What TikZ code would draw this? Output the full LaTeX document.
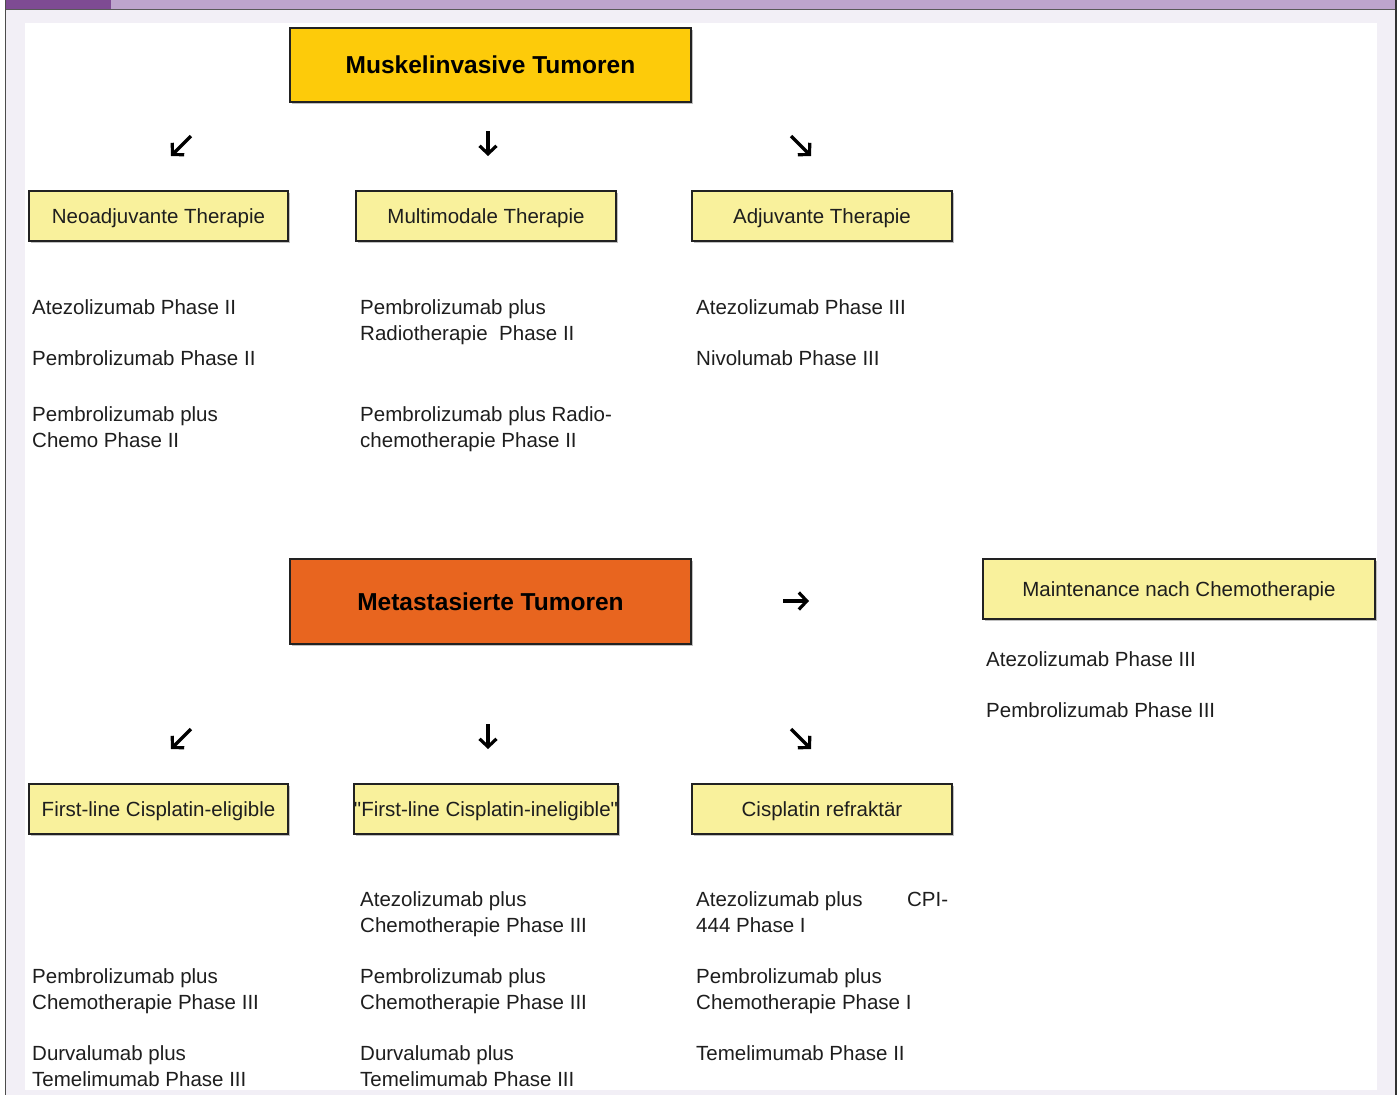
\documentclass[tikz,border=0pt]{standalone}
\usepackage{fontspec}
\setmainfont{Liberation Sans}[Ligatures=TeXOff]
\usetikzlibrary{arrows.meta,shadows}
\definecolor{lav}{HTML}{F2EFF6}
\definecolor{pdark}{HTML}{7E4B93}
\definecolor{plight}{HTML}{BDA4CC}
\definecolor{gold}{HTML}{FDCB0A}
\definecolor{orng}{HTML}{E8651F}
\definecolor{ly}{HTML}{F9F19C}
\definecolor{bd}{HTML}{222222}
\definecolor{txt}{HTML}{1E1E1E}
\tikzset{
  lbl/.style={font=\fontsize{20.5}{25.5}\selectfont, text=txt, anchor=north west, inner sep=0pt, align=left},
  boxbase/.style={draw=bd, line width=1.8pt, inner sep=0pt, text=txt,
    drop shadow={shadow xshift=1.6pt, shadow yshift=-1.6pt, opacity=0.35, fill=black!70}},
  ybox/.style={boxbase, fill=ly, font=\fontsize{20.5}{24}\selectfont, text height=14.7pt, text depth=0pt},
  tbox/.style={boxbase, font=\bfseries\fontsize{24.5}{28}\selectfont, text=black, text height=17.5pt, text depth=0pt},
  arr/.style={line width=3.2pt, draw=black, -{Straight Barb[length=8pt,width=17pt]}}
}
\begin{document}
\begin{tikzpicture}[x=1pt,y=-1pt]
\useasboundingbox (0,0) rectangle (1400,1095);
% frame
\fill[white] (0,0) rectangle (1400,1095);
\fill[lav] (6,10) rectangle (1395,1095);
\fill[white] (25,23) rectangle (1377,1090);
\fill[pdark] (6,0) rectangle (111,9);
\fill[plight] (111,0) rectangle (1395,9);
\draw[line width=1pt, draw=black!65] (6,9.5) -- (1396,9.5);
\draw[line width=1.2pt, draw=black!70] (5.6,0) -- (5.6,1095);
\draw[line width=1.8pt, draw=black!80] (1396,0) -- (1396,1095);

% title boxes
\node[tbox, fill=gold, minimum width=401pt, minimum height=74pt] (muskel) at (490.5,65) {Muskelinvasive Tumoren};
\node[tbox, fill=orng, minimum width=401pt, minimum height=85pt] (meta) at (490.5,601.5) {Metastasierte Tumoren};

% yellow boxes
\node[ybox, minimum width=259pt, minimum height=50pt] (neo) at (158.5,216) {Neoadjuvante Therapie};
\node[ybox, minimum width=260pt, minimum height=50pt] (multi) at (486,216) {Multimodale Therapie};
\node[ybox, minimum width=260pt, minimum height=50pt] (adj) at (822,216) {Adjuvante Therapie};
\node[ybox, minimum width=392pt, minimum height=60pt] (maint) at (1179,589) {Maintenance nach Chemotherapie};
\node[ybox, minimum width=259pt, minimum height=50pt] (fle) at (158.5,809) {First-line Cisplatin-eligible};
\node[ybox, minimum width=260pt, minimum height=50pt] (fli) at (486,809) {"First-line Cisplatin-ineligible"};
\node[ybox, minimum width=260pt, minimum height=50pt] (cis) at (822,809) {Cisplatin refraktär};

% arrows
\coordinate (u1s) at (191,136); \coordinate (u1e) at (171,156);
\coordinate (u2s) at (488,131); \coordinate (u2e) at (488,156);
\coordinate (u3s) at (791,136); \coordinate (u3e) at (811,156);
\coordinate (rs) at (783,601); \coordinate (re) at (809,601);
\coordinate (l1s) at (191,729); \coordinate (l1e) at (171,749);
\coordinate (l2s) at (488,724); \coordinate (l2e) at (488,749);
\coordinate (l3s) at (791,729); \coordinate (l3e) at (811,749);
\draw[arr] (u1s) -- (u1e);
\draw[arr] (u2s) -- (u2e);
\draw[arr] (u3s) -- (u3e);
\draw[arr] (rs) -- (re);
\draw[arr] (l1s) -- (l1e);
\draw[arr] (l2s) -- (l2e);
\draw[arr] (l3s) -- (l3e);

% upper lists
\node[lbl] (a1) at (32,299.5) {Atezolizumab Phase II};
\node[lbl] (a2) at (32,350.5) {Pembrolizumab Phase II};
\node[lbl] (a3) at (32,406.5) {Pembrolizumab plus\\Chemo Phase II};
\node[lbl] (b1) at (360,299.5) {Pembrolizumab plus\\Radiotherapie\ \ Phase II};
\node[lbl] (b2) at (360,406.5) {Pembrolizumab plus Radio-\\chemotherapie Phase II};
\node[lbl] (c1) at (696,299.5) {Atezolizumab Phase III};
\node[lbl] (c2) at (696,350.5) {Nivolumab Phase III};
\node[lbl] (m1) at (986,651.5) {Atezolizumab Phase III};
\node[lbl] (m2) at (986,702.5) {Pembrolizumab Phase III};

% lower lists
\node[lbl] (d1) at (32,968.5) {Pembrolizumab plus\\Chemotherapie Phase III};
\node[lbl] (d2) at (32,1045.5) {Durvalumab plus\\Temelimumab Phase III};
\node[lbl] (e1) at (360,891.5) {Atezolizumab plus\\Chemotherapie Phase III};
\node[lbl] (e2) at (360,968.5) {Pembrolizumab plus\\Chemotherapie Phase III};
\node[lbl] (e3) at (360,1045.5) {Durvalumab plus\\Temelimumab Phase III};
\node[lbl] (f1) at (696,891.5) {\makebox[211pt][l]{Atezolizumab plus}CPI-\\444 Phase I};
\node[lbl] (f2) at (696,968.5) {Pembrolizumab plus\\Chemotherapie Phase I};
\node[lbl] (f3) at (696,1045.5) {Temelimumab Phase II};
\end{tikzpicture}
\end{document}
